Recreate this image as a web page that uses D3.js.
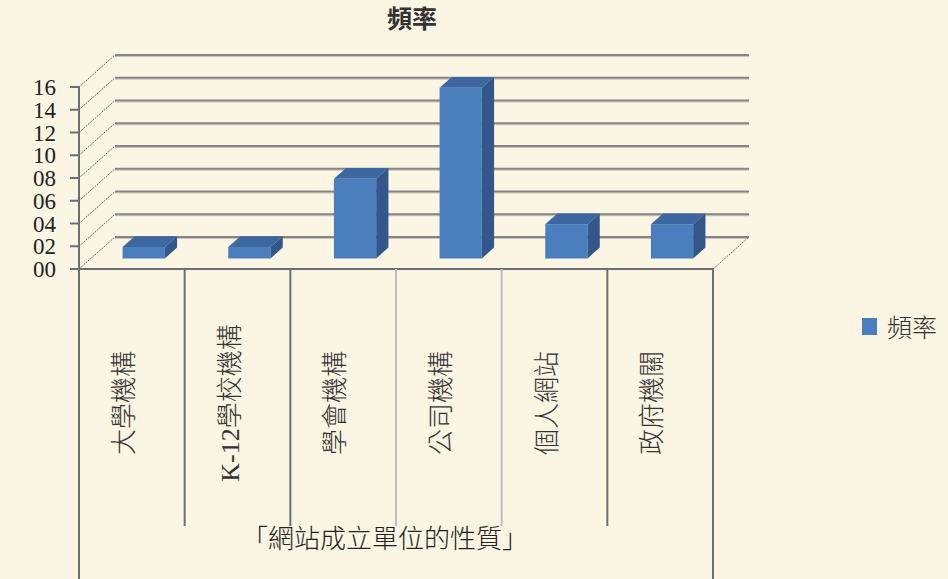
<!DOCTYPE html>
<html>
<head>
<meta charset="utf-8">
<script src="https://cdn.jsdelivr.net/npm/d3@7"></script>
<style>
  html, body { margin: 0; padding: 0; background: #fbf5e3; }
  svg { display: block; }
</style>
</head>
<body>
<svg id="chart" width="948" height="579"></svg>
<script>
// Data
const categories = ["大學機構", "K-12學校機構", "學會機構", "公司機構", "個人網站", "政府機關"];
const values = [1, 1, 7, 15, 3, 3];
const yTicks = [0, 2, 4, 6, 8, 10, 12, 14, 16];
const yTickLabels = ["00", "02", "04", "06", "08", "10", "12", "14", "16"];
const seriesName = "頻率";
const chartTitle = "頻率";
const axisTitle = "「網站成立單位的性質」";

const W = 948, H = 579;
const svg = d3.select("#chart");
const cjk = "'Liberation Serif', 'Noto Sans CJK TC', 'Noto Sans CJK SC', serif";
const serif = "'Liberation Serif', 'DejaVu Serif', serif";

svg.append("rect").attr("width", W).attr("height", H).attr("fill", "#fbf5e3");

// Front plane scales, with an oblique depth offset for the 3D look
const x = d3.scaleBand().domain(categories).range([79, 713]);
const y = d3.scaleLinear().domain([0, 16]).range([269, 87]);
const DX = 36, DY = 32;
const proj = (px, v, z) => [px + z * DX, y(v) - z * DY];

const colors = { front: "#4b7ebd", top: "#3d67a0", side: "#33578a" };

// Back wall gridlines
const g = svg.append("g");
yTicks.forEach(t => {
  const a = proj(x.range()[0], t, 1), b = proj(x.range()[1], t, 1);
  g.append("line").attr("x1", a[0]).attr("y1", a[1] + 1.5).attr("x2", b[0]).attr("y2", b[1] + 1.5)
    .attr("stroke", "#c9c5bb").attr("stroke-width", 1);
  g.append("line").attr("x1", a[0]).attr("y1", a[1]).attr("x2", b[0]).attr("y2", b[1])
    .attr("stroke", "#858585").attr("stroke-width", 2);
  // side wall diagonals
  const c = proj(x.range()[0], t, 0);
  g.append("line").attr("x1", c[0]).attr("y1", c[1]).attr("x2", a[0]).attr("y2", a[1])
    .attr("stroke", "#6a6a6a").attr("stroke-width", 1).attr("stroke-dasharray", "2,1");
});
// Right floor edge
{
  const a = proj(x.range()[1], 0, 0), b = proj(x.range()[1], 0, 1);
  g.append("line").attr("x1", a[0]).attr("y1", a[1]).attr("x2", b[0]).attr("y2", b[1])
    .attr("stroke", "#6a6a6a").attr("stroke-width", 1).attr("stroke-dasharray", "2,1");
}

// Bars as oblique boxes
const zf = 0.33, zb = 0.67, barFrac = 0.4;
const bars = svg.append("g");
categories.forEach((c, i) => {
  const v = values[i];
  const cx = x(c) + x.bandwidth() / 2;
  const hw = x.bandwidth() * barFrac / 2;
  const x0 = cx - hw, x1 = cx + hw;
  const p = (px, val, z) => proj(px, val, z).join(",");
  // front face
  bars.append("polygon").attr("fill", colors.front)
    .attr("points", [p(x0, 0, zf), p(x1, 0, zf), p(x1, v, zf), p(x0, v, zf)].join(" "));
  // top face
  bars.append("polygon").attr("fill", colors.top)
    .attr("points", [p(x0, v, zf), p(x1, v, zf), p(x1, v, zb), p(x0, v, zb)].join(" "));
  // side face
  bars.append("polygon").attr("fill", colors.side)
    .attr("points", [p(x1, 0, zf), p(x1, 0, zb), p(x1, v, zb), p(x1, v, zf)].join(" "));
});

// Value axis
const ax = svg.append("g");
ax.append("line").attr("x1", 79).attr("y1", y(16)).attr("x2", 79).attr("y2", H)
  .attr("stroke", "#6b6e75").attr("stroke-width", 2);
yTicks.forEach((t, i) => {
  ax.append("line").attr("x1", 70).attr("x2", 79).attr("y1", y(t)).attr("y2", y(t))
    .attr("stroke", "#6b6e75").attr("stroke-width", 2);
  ax.append("text").attr("x", 56).attr("y", y(t)).attr("dy", "0.35em")
    .attr("text-anchor", "end").attr("font-family", serif).attr("font-size", 23)
    .attr("fill", "#222").text(yTickLabels[i]);
});

// Category axis
ax.append("line").attr("x1", 70).attr("x2", x.range()[1]).attr("y1", y(0)).attr("y2", y(0))
  .attr("stroke", "#6b6e75").attr("stroke-width", 2);
ax.append("line").attr("x1", x.range()[1]).attr("x2", x.range()[1]).attr("y1", y(0)).attr("y2", H)
  .attr("stroke", "#6b6e75").attr("stroke-width", 2);
const sepColors = ["#6b6e75", "#6b6e75", "#bdbdbd", "#bdbdbd", "#6b6e75"];
categories.slice(1).forEach((c, i) => {
  ax.append("line").attr("x1", x(c)).attr("x2", x(c)).attr("y1", y(0)).attr("y2", 526)
    .attr("stroke", sepColors[i]).attr("stroke-width", 2);
});
categories.forEach(c => {
  const cx = x(c) + x.bandwidth() / 2 - 8;
  ax.append("text").attr("transform", `translate(${cx},403) rotate(-90)`)
    .attr("text-anchor", "middle").attr("dy", "0.35em")
    .attr("font-family", cjk).attr("font-size", 26).attr("font-weight", 300)
    .attr("fill", "#333").text(c);
});

// Axis title
svg.append("text").attr("x", 385).attr("y", 539).attr("dy", "0.35em")
  .attr("text-anchor", "middle").attr("font-family", cjk).attr("font-size", 26)
  .attr("font-weight", 300).attr("fill", "#222").text(axisTitle);

// Chart title
svg.append("text").attr("x", 412).attr("y", 19).attr("dy", "0.35em")
  .attr("text-anchor", "middle").attr("font-family", cjk).attr("font-size", 25)
  .attr("font-weight", 700).attr("fill", "#333").text(chartTitle);

// Legend
const lg = svg.append("g");
lg.append("rect").attr("x", 862).attr("y", 318).attr("width", 15).attr("height", 17)
  .attr("fill", colors.front);
lg.append("text").attr("x", 887).attr("y", 328).attr("dy", "0.35em")
  .attr("font-family", cjk).attr("font-size", 25).attr("font-weight", 300)
  .attr("fill", "#333").text(seriesName);
</script>
</body>
</html>
